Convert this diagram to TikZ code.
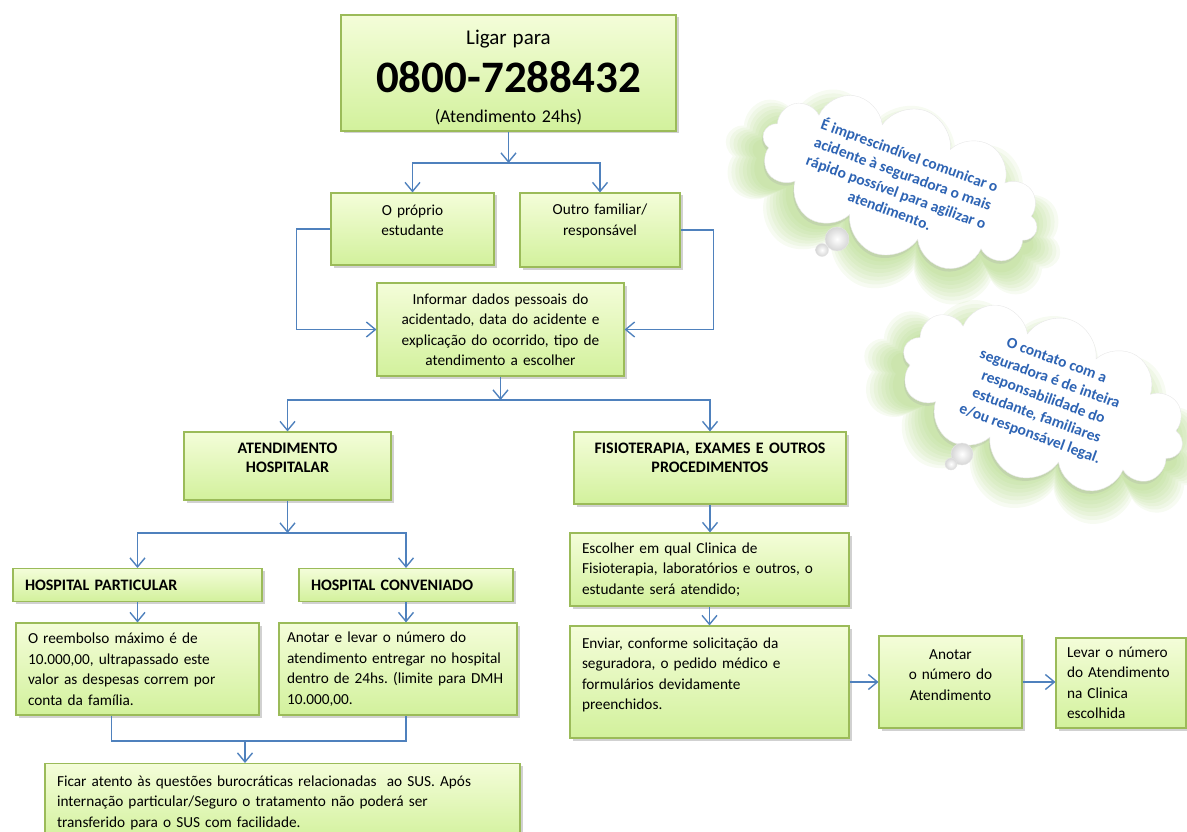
\documentclass[tikz,border=0pt]{standalone}
\usepackage{fontspec}
\setmainfont{Carlito}
\frenchspacing
\usetikzlibrary{shapes.symbols,arrows.meta,positioning,shadows}
\definecolor{boxline}{HTML}{9BBB59}
\definecolor{boxtop}{HTML}{F4FDD9}
\definecolor{boxbot}{HTML}{D2F19C}
\definecolor{seta}{HTML}{4F81BD}
\definecolor{nuvemtxt}{HTML}{2E64B4}
\definecolor{brilhoverde}{HTML}{93C955}
\newcommand{\boxfont}{\fontsize{15.3}{20.5}\selectfont}
\newcommand{\titfont}{\fontsize{16}{19}\selectfont\bfseries}
\newcommand{\nuvemfont}{\fontsize{15.5}{19.5}\selectfont\bfseries}
\tikzset
{
	passo/.style = {draw=boxline, line width=1.1pt, top color=boxtop, bottom color=boxbot, inner xsep=12pt, inner ysep=0pt, font=\boxfont, align=center, drop shadow={shadow xshift=2.5pt, shadow yshift=-2.5pt, fill=black!45, opacity=.4}},
	passoesq/.style = {passo, align=left},
	titulo/.style = {passo, font=\titfont},
	seta/.style = {draw=seta, line width=1.4pt, -{Straight Barb[length=9pt,width=15pt]}},
	linha/.style = {draw=seta, line width=1.4pt},
	nuvem/.style = {cloud, cloud puffs=12, cloud ignores aspect, rotate=-20, inner sep=0pt, fill=white, draw=black!9, align=center, text=nuvemtxt, font=\nuvemfont, drop shadow={shadow xshift=-1pt, shadow yshift=-3pt, fill=black!35, opacity=.25}},
	brilho/.style = {cloud, cloud puffs=12, cloud ignores aspect, rotate=-20, fill=brilhoverde, draw=none, fill opacity=0.08},
	bolha/.style = {circle, inner sep=0pt, inner color=white, outer color=black!16, draw=black!10}
}
\begin{document}
\begin{tikzpicture}[x=1pt, y=-1pt]
\useasboundingbox (0,0) rectangle (1187,832);

% nuvens
\foreach \g in {64,56,48,40,32,24,16,8}
{
	\node[brilho, minimum width=290+\g, minimum height=125+\g] (brilhoA\g) at (893,197) {};
	\node[brilho, minimum width=295+\g, minimum height=135+\g] (brilhoB\g) at (1034,412) {};
}
\node[nuvem, minimum width=290, minimum height=125] (nuvem1) at (900,182)
	{É imprescindível comunicar o\\acidente à seguradora o mais\\rápido possível para agilizar o\\atendimento.};
\node[bolha, minimum size=24] (bolha1) at (837,239) {};
\node[bolha, minimum size=13] (bolha2) at (822,250) {};
\node[nuvem, minimum width=295, minimum height=135] (nuvem2) at (1043,398)
	{O contato com a\\seguradora é de inteira\\responsabilidade do\\estudante, familiares\\e/ou responsável legal.};
\node[bolha, minimum size=22] (bolha3) at (962,454) {};
\node[bolha, minimum size=12] (bolha4) at (951,464) {};

% caixas
\node[passo, text width=311pt, minimum height=116pt, text depth=71pt, font=\fontsize{18}{30}\selectfont] (ligar) at (508.5,73)
	{{\fontsize{21}{21}\selectfont Ligar para}\\[12pt]{\fontsize{45}{45}\selectfont\bfseries 0800-7288432}\\(Atendimento 24hs)};
\node[passo, text width=139pt, minimum height=72pt, text depth=38pt] (proprio) at (412.5,229) {O próprio\\estudante};
\node[passo, text width=136pt, minimum height=74pt, text depth=41pt] (outro) at (600,230) {Outro familiar/\\responsável};
\node[passo, text width=223pt, minimum height=93pt] (informar) at (500.5,329.5)
	{Informar dados pessoais do\\acidentado, data do acidente e\\explicação do ocorrido, tipo de\\atendimento a escolher};
\node[titulo, text width=183pt, minimum height=68pt, text depth=36pt] (hospitalar) at (287.5,466) {ATENDIMENTO\\HOSPITALAR};
\node[titulo, text width=248pt, minimum height=72pt, text depth=40pt] (fisio) at (710,468) {FISIOTERAPIA, EXAMES E OUTROS\\PROCEDIMENTOS};
\node[passoesq, font=\titfont, text width=225pt, minimum height=33pt] (particular) at (137.5,585) {HOSPITAL PARTICULAR};
\node[passoesq, font=\titfont, text width=190pt, minimum height=33pt] (conveniado) at (406,585) {HOSPITAL CONVENIADO};
\node[passoesq, text width=219pt, minimum height=92pt] (reembolso) at (137.5,669)
	{O reembolso máximo é de\\10.000,00, ultrapassado este\\valor as despesas correm por\\conta da família.};
\node[passoesq, text width=222pt, inner xsep=8pt, minimum height=92pt] (anotarhosp) at (398,669)
	{Anotar e levar o número do\\\mbox{atendimento entregar no hospital}\\\mbox{dentro de 24hs. (limite para DMH}\\10.000,00.};
\node[passoesq, text width=451pt, minimum height=78pt, anchor=north] (sus) at (282.5,763)
	{Ficar atento às questões burocráticas relacionadas~ ao SUS. Após\\internação particular/Seguro o tratamento não poderá ser\\transferido para o SUS com facilidade.};
\node[passoesq, text width=255pt, minimum height=73pt] (escolher) at (709.5,569.5)
	{Escolher em qual Clinica de\\Fisioterapia, laboratórios e outros, o\\estudante será atendido;};
\node[passoesq, text width=255pt, minimum height=112pt, text depth=78pt] (enviar) at (709.5,682)
	{Enviar, conforme solicitação da\\seguradora, o pedido médico e\\formulários devidamente\\preenchidos.};
\node[passo, text width=119pt, minimum height=92pt, text depth=55pt] (anotarnum) at (950.5,682) {Anotar\\o número do\\Atendimento};
\node[passoesq, text width=108pt, minimum height=90pt, inner xsep=11pt] (levar) at (1121,683)
	{Levar o número\\do Atendimento\\na Clinica\\escolhida};

% ligacoes
\coordinate (bus1) at (508.5,163);
\coordinate (bus2) at (500.5,400);
\coordinate (bus3) at (287.5,533);
\coordinate (juncao) at (245,741);
\draw[seta] (ligar) -- (bus1);
\draw[seta] (bus1) -| (proprio);
\draw[seta] (bus1) -| (outro);
\draw[seta] (proprio.west) -- ++(-34,0) |- (informar.west);
\draw[seta] (outro.east) -- ++(33,0) |- (informar.east);
\draw[seta] (informar) -- (bus2);
\draw[seta] (bus2) -| (hospitalar);
\draw[seta] (bus2) -| (fisio);
\draw[seta] (hospitalar) -- (bus3);
\draw[seta] (bus3) -| (particular);
\draw[seta] (bus3) -| (conveniado);
\draw[seta] (particular) -- (reembolso);
\draw[seta] (conveniado.south) -- (conveniado.south |- anotarhosp.north);
\draw[linha] ([xshift=-26pt]reembolso.south) |- (juncao) -| (conveniado.south |- anotarhosp.south);
\draw[seta] (juncao) -- (juncao |- sus.north);
\draw[seta] (fisio.south) -- (fisio.south |- escolher.north);
\draw[seta] (escolher) -- (enviar);
\draw[seta] (enviar) -- (anotarnum);
\draw[seta] (anotarnum.east) -- (anotarnum.east -| levar.west);
\end{tikzpicture}
\end{document}
